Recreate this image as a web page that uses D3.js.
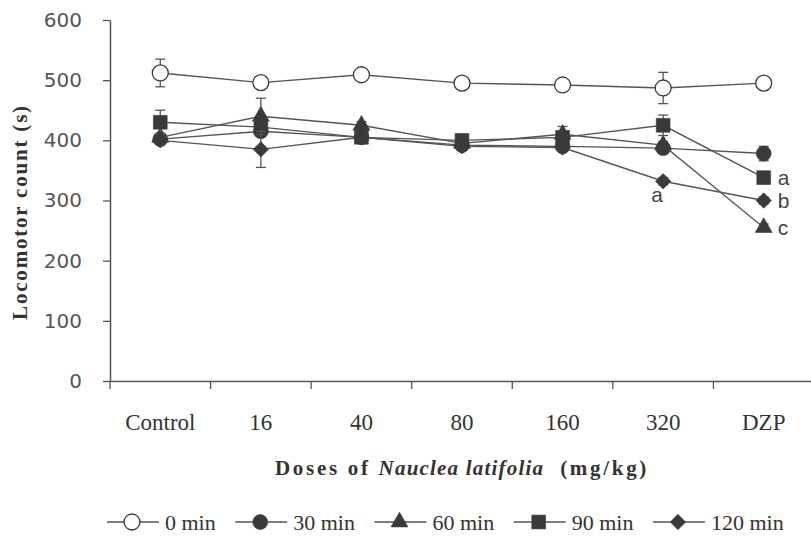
<!DOCTYPE html>
<html>
<head>
<meta charset="utf-8">
<script src="https://cdn.jsdelivr.net/npm/d3@7"></script>
<style>
  body { margin: 0; background: #fff; }
  svg { display: block; }
</style>
</head>
<body>
<div id="chart"></div>
<script>
// categories and tick values
var categories = ["Control", "16", "40", "80", "160", "320", "DZP"];
var yTicks = [0, 100, 200, 300, 400, 500, 600];
var seriesNames = ["0 min", "30 min", "60 min", "90 min", "120 min"];

// locomotor counts (mean) and error bars
var min0 = [512, 496, 509, 495, 492, 487, 495];
var err0 = [23, 5, 5, 5, 5, 26, 5];
var min30 = [402, 415, 405, 392, 390, 387, 378];
var err30 = [6, 8, 6, 5, 6, 8, 12];
var min60 = [405, 440, 425, 395, 410, 392, 255];
var err60 = [6, 30, 6, 5, 13, 6, 6];
var min90 = [430, 422, 405, 400, 405, 425, 338];
var err90 = [20, 8, 6, 5, 6, 17, 6];
var min120 = [400, 385, 405, 390, 388, 332, 300];
var err120 = [6, 30, 6, 5, 6, 6, 6];

// significance letters
var letters = [
  { series: "90 min", cat: "DZP", text: "a", side: "right" },
  { series: "120 min", cat: "DZP", text: "b", side: "right" },
  { series: "60 min", cat: "DZP", text: "c", side: "right" },
  { series: "120 min", cat: "320", text: "a", side: "below" }
];

var series = [
  { name: seriesNames[0], values: min0, errors: err0, shape: "openCircle" },
  { name: seriesNames[1], values: min30, errors: err30, shape: "circle" },
  { name: seriesNames[2], values: min60, errors: err60, shape: "triangle" },
  { name: seriesNames[3], values: min90, errors: err90, shape: "square" },
  { name: seriesNames[4], values: min120, errors: err120, shape: "diamond" }
];

var width = 811, height = 539;
var ink = "#3a3a3a", lineColor = "#555";

var svg = d3.select("#chart").append("svg")
  .attr("width", width)
  .attr("height", height);

var x = d3.scaleBand().domain(categories).range([110, 814]);
var y = d3.scaleLinear().domain([0, 600]).range([381, 20]);
var cx = function (c) { return x(c) + x.bandwidth() / 2; };

function markerPath(shape) {
  if (shape == "openCircle") return d3.symbol().type(d3.symbolCircle).size(200)();
  if (shape == "circle") return d3.symbol().type(d3.symbolCircle).size(175)();
  if (shape == "triangle") return d3.symbol().type(d3.symbolTriangle).size(125)();
  if (shape == "square") return d3.symbol().type(d3.symbolSquare).size(190)();
  return d3.symbol().type(d3.symbolSquare).size(118)();
}

function drawMarker(g, shape) {
  g.append("path")
    .attr("d", markerPath(shape))
    .attr("transform", shape == "diamond" ? "rotate(45)" : null)
    .attr("fill", shape == "openCircle" ? "#fff" : ink)
    .attr("stroke", ink)
    .attr("stroke-width", shape == "openCircle" ? 1.3 : 0.6);
}

// y axis
var yAxis = svg.append("g")
  .attr("transform", "translate(110,0)")
  .call(d3.axisLeft(y).tickValues(yTicks).tickSize(7).tickSizeOuter(0).tickPadding(21));
yAxis.select(".domain").attr("stroke", lineColor).attr("stroke-width", 1.5);
yAxis.selectAll(".tick line").attr("stroke", lineColor).attr("stroke-width", 1.3);
yAxis.selectAll(".tick text")
  .attr("font-family", "DejaVu Sans")
  .attr("font-size", 20)
  .attr("fill", "#555");

// x axis, labels centred in the bands, ticks on the band edges
var xAxis = svg.append("g")
  .attr("transform", "translate(0,381)")
  .call(d3.axisBottom(x).tickSize(0).tickSizeOuter(0).tickPadding(33));
xAxis.select(".domain").attr("stroke", lineColor).attr("stroke-width", 1.5);
xAxis.selectAll(".tick text")
  .attr("font-family", "Liberation Serif")
  .attr("font-size", 23)
  .attr("fill", "#333");

var edges = categories.map(function (c) { return x(c); }).concat([x.range()[1]]);
xAxis.selectAll(".edge")
  .data(edges)
  .enter()
  .append("line")
  .attr("class", "edge")
  .attr("x1", function (d) { return d; })
  .attr("x2", function (d) { return d; })
  .attr("y1", 0)
  .attr("y2", 8)
  .attr("stroke", lineColor)
  .attr("stroke-width", 1.3);

// axis titles
svg.append("text")
  .attr("transform", "translate(27,212) rotate(-90)")
  .attr("text-anchor", "middle")
  .attr("font-family", "Liberation Serif")
  .attr("font-weight", "bold")
  .attr("font-size", 21)
  .attr("letter-spacing", 1.8)
  .attr("fill", "#333")
  .text("Locomotor count (s)");

var xTitle = svg.append("text")
  .attr("x", (x.range()[0] + x.range()[1]) / 2)
  .attr("y", 475)
  .attr("text-anchor", "middle")
  .attr("font-family", "Liberation Serif")
  .attr("font-weight", "bold")
  .attr("font-size", 21)
  .attr("letter-spacing", 2.7)
  .attr("fill", "#333");
xTitle.append("tspan").text("Doses of ");
xTitle.append("tspan").attr("font-style", "italic").attr("letter-spacing", 1.2).text("Nauclea latifolia");
xTitle.append("tspan").text("\u00a0 (mg/kg)");

// series: line, error bars, markers
var line = d3.line()
  .x(function (d) { return cx(d.cat); })
  .y(function (d) { return y(d.v); });

series.forEach(function (s) {
  var pts = categories.map(function (c, i) {
    return { cat: c, v: s.values[i], e: s.errors[i] };
  });
  var g = svg.append("g");

  g.append("path")
    .datum(pts)
    .attr("d", line)
    .attr("fill", "none")
    .attr("stroke", lineColor)
    .attr("stroke-width", 1.4);

  var eb = g.selectAll(".err")
    .data(pts)
    .enter()
    .append("g")
    .attr("transform", function (d) { return "translate(" + cx(d.cat) + ",0)"; });
  eb.append("line")
    .attr("y1", function (d) { return y(d.v - d.e); })
    .attr("y2", function (d) { return y(d.v + d.e); })
    .attr("stroke", lineColor).attr("stroke-width", 1.3);
  [-1, 1].forEach(function (sign) {
    eb.append("line")
      .attr("x1", -5).attr("x2", 5)
      .attr("y1", function (d) { return y(d.v + sign * d.e); })
      .attr("y2", function (d) { return y(d.v + sign * d.e); })
      .attr("stroke", lineColor).attr("stroke-width", 1.3);
  });

  g.selectAll(".mark")
    .data(pts)
    .enter()
    .append("g")
    .attr("transform", function (d) { return "translate(" + cx(d.cat) + "," + y(d.v) + ")"; })
    .each(function () { drawMarker(d3.select(this), s.shape); });
});

// significance letters
letters.forEach(function (l) {
  var s = series.find(function (d) { return d.name == l.series; });
  var v = s.values[categories.indexOf(l.cat)];
  svg.append("text")
    .attr("x", cx(l.cat) + (l.side == "right" ? 14 : -6))
    .attr("y", y(v) + (l.side == "right" ? 7 : 21))
    .attr("text-anchor", l.side == "right" ? "start" : "middle")
    .attr("font-family", "Liberation Sans")
    .attr("font-size", 21)
    .attr("fill", "#444")
    .text(l.text);
});

// legend along the bottom
var lx = 107;
series.forEach(function (s) {
  var g = svg.append("g").attr("transform", "translate(" + lx + ",522)");
  g.append("line")
    .attr("x1", 0).attr("x2", 52)
    .attr("stroke", lineColor).attr("stroke-width", 1.4);
  var m = g.append("g").attr("transform", "translate(25,0)");
  drawMarker(m, s.shape);
  var t = g.append("text")
    .attr("x", 58)
    .attr("dy", "0.35em")
    .attr("font-family", "Liberation Serif")
    .attr("font-size", 22)
    .attr("fill", "#333")
    .text(s.name);
  lx += 58 + t.node().getComputedTextLength() + 19.5;
});
</script>
</body>
</html>
